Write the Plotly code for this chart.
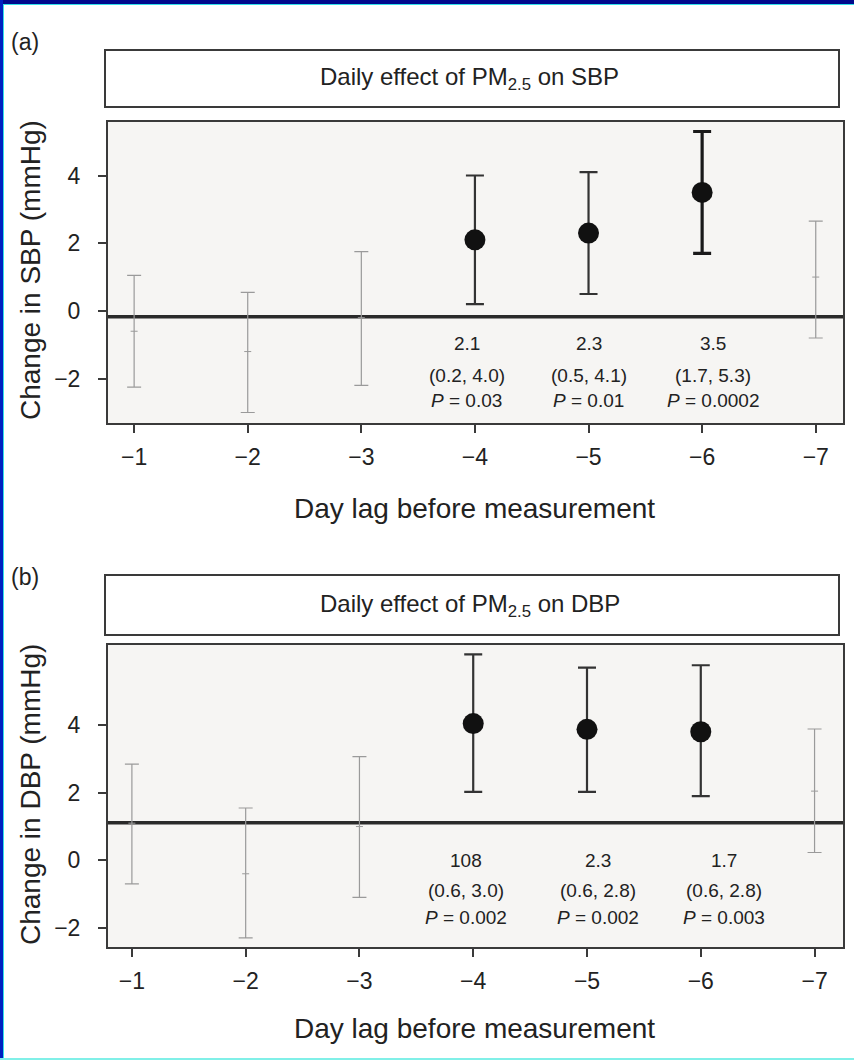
import plotly.graph_objects as go

# Day lags before the blood-pressure measurement
lags = [-1, -2, -3, -4, -5, -6, -7]

# Panel (a): systolic blood pressure change (mmHg), estimate with 95% CI
sbp_est = [-0.6, -1.2, -0.2, 2.1, 2.3, 3.5, 1.0]
sbp_lo = [-2.25, -3.0, -2.2, 0.2, 0.5, 1.7, -0.8]
sbp_hi = [1.05, 0.55, 1.75, 4.0, 4.1, 5.3, 2.65]
sbp_ref = -0.17

# Panel (b): diastolic blood pressure change (mmHg), estimate with 95% CI
dbp_est = [1.1, -0.4, 1.0, 4.05, 3.88, 3.81, 2.05]
dbp_lo = [-0.7, -2.3, -1.1, 2.03, 2.03, 1.9, 0.23]
dbp_hi = [2.85, 1.55, 3.07, 6.1, 5.71, 5.78, 3.89]
dbp_ref = 1.11

# Significance class per lag: 0 = not significant, 1 = significant, 2 = strongest
sbp_sig = [0, 0, 0, 1, 1, 2, 0]
dbp_sig = [0, 0, 0, 1, 1, 1, 0]

# Text blocks under the significant lags
sbp_lbl_x = [-3.93, -5.0, -6.1]
sbp_lbl = [["2.1", "(0.2, 4.0)", "<i>P</i> = 0.03"],
           ["2.3", "(0.5, 4.1)", "<i>P</i> = 0.01"],
           ["3.5", "(1.7, 5.3)", "<i>P</i> = 0.0002"]]
sbp_lbl_y = [-0.95, -1.9, -2.65]

dbp_lbl_x = [-3.94, -5.1, -6.2]
dbp_lbl = [["108", "(0.6, 3.0)", "<i>P</i> = 0.002"],
           ["2.3", "(0.6, 2.8)", "<i>P</i> = 0.002"],
           ["1.7", "(0.6, 2.8)", "<i>P</i> = 0.003"]]
dbp_lbl_y = [0.0, -0.9, -1.7]

y_ticks = [-2, 0, 2, 4]

W, H = 854, 1060
FONT = "Liberation Sans Narrow, Liberation Sans, Arial, sans-serif"
AX = "#3a3a3a"
TXT = "#222222"

fig = go.Figure()


def add_panel(est, lo, hi, sig, xa, ya):
    styles = {
        0: dict(color="#9a9a9a", width=1.2, cap=7, marker=False),
        1: dict(color="#333333", width=2.2, cap=9, marker=True),
        2: dict(color="#1a1a1a", width=3.2, cap=9, marker=True),
    }
    for level, st in styles.items():
        idx = [i for i, s in enumerate(sig) if s == level]
        if not idx:
            continue
        xs = [lags[i] for i in idx]
        ys = [est[i] for i in idx]
        up = [hi[i] - est[i] for i in idx]
        dn = [est[i] - lo[i] for i in idx]
        fig.add_trace(go.Scatter(
            x=xs, y=ys, mode="markers", xaxis=xa, yaxis=ya, showlegend=False,
            marker=(dict(symbol="circle", size=21, color="#111111")
                    if st["marker"] else
                    dict(symbol="line-ew", size=5, line=dict(color=st["color"], width=1))),
            error_y=dict(type="data", symmetric=False, array=up, arrayminus=dn,
                         color=st["color"], thickness=st["width"], width=st["cap"]),
        ))


add_panel(sbp_est, sbp_lo, sbp_hi, sbp_sig, "x", "y")
add_panel(dbp_est, dbp_lo, dbp_hi, dbp_sig, "x2", "y2")


def px_x(p):
    return p / W


def px_y(p):
    return 1 - p / H


axis_common = dict(
    showline=True, linecolor=AX, linewidth=2, mirror=True,
    ticks="outside", ticklen=8, tickcolor=AX, tickwidth=1.5,
    showgrid=False, zeroline=False,
    tickfont=dict(family=FONT, size=23, color=TXT),
)

fig.update_layout(
    width=W, height=H,
    margin=dict(l=0, r=0, t=0, b=0),
    paper_bgcolor="white",
    plot_bgcolor="#f6f5f3",
    xaxis=dict(domain=[px_x(108), px_x(843)], range=[-0.77, -7.24],
               tickvals=lags, anchor="y", ticklabelstandoff=4, **axis_common),
    yaxis=dict(domain=[px_y(423), px_y(122)], range=[-3.31, 5.58],
               tickvals=y_ticks, anchor="x", ticklabelstandoff=13, **axis_common),
    xaxis2=dict(domain=[px_x(108), px_x(843)], range=[-0.79, -7.25],
                tickvals=lags, anchor="y2", ticklabelstandoff=4, **axis_common),
    yaxis2=dict(domain=[px_y(947), px_y(645)], range=[-2.57, 6.38],
                tickvals=y_ticks, anchor="x2", ticklabelstandoff=13, **axis_common),
)

shapes = []
annotations = []

# Reference lines across each panel
for xa, ya, ref in (("x", "y", sbp_ref), ("x2", "y2", dbp_ref)):
    shapes.append(dict(type="line", xref=f"{xa} domain", yref=ya, x0=0, x1=1,
                       y0=ref, y1=ref, line=dict(color="#2a2a2a", width=3.5),
                       layer="below"))

# Panel header boxes with titles
for top, bot, name in ((50, 107, "SBP"), (575, 635, "DBP")):
    shapes.append(dict(type="rect", xref="paper", yref="paper",
                       x0=px_x(105), x1=px_x(839), y0=px_y(bot), y1=px_y(top),
                       line=dict(color=AX, width=2), fillcolor="white"))
    annotations.append(dict(xref="paper", yref="paper", x=px_x(470),
                            y=px_y((top + bot) / 2), xanchor="center", yanchor="middle",
                            text=f"Daily effect of PM<sub>2.5</sub> on {name}",
                            showarrow=False,
                            font=dict(family=FONT, size=24, color=TXT)))

# Panel letters
for y, letter in ((42, "(a)"), (577, "(b)")):
    annotations.append(dict(xref="paper", yref="paper", x=px_x(9), y=px_y(y),
                            xanchor="left", yanchor="middle", text=letter,
                            showarrow=False,
                            font=dict(family=FONT, size=23, color=TXT)))

# Axis titles
for yc, name in ((270, "SBP"), (795, "DBP")):
    annotations.append(dict(xref="paper", yref="paper", x=px_x(30), y=px_y(yc),
                            xanchor="center", yanchor="middle", textangle=-90,
                            text=f"Change in {name} (mmHg)", showarrow=False,
                            font=dict(family=FONT, size=28, color=TXT)))
for yc in (508, 1028):
    annotations.append(dict(xref="paper", yref="paper", x=px_x(475), y=px_y(yc),
                            xanchor="center", yanchor="middle",
                            text="Day lag before measurement", showarrow=False,
                            font=dict(family=FONT, size=28, color=TXT)))

# Estimate / CI / P-value text blocks
for xa, ya, xs, blocks, ys in (("x", "y", sbp_lbl_x, sbp_lbl, sbp_lbl_y),
                               ("x2", "y2", dbp_lbl_x, dbp_lbl, dbp_lbl_y)):
    for x, lines in zip(xs, blocks):
        for yv, line in zip(ys, lines):
            annotations.append(dict(xref=xa, yref=ya, x=x, y=yv, text=line,
                                    xanchor="center", yanchor="middle",
                                    showarrow=False,
                                    font=dict(family=FONT, size=19, color=TXT)))

# Outer frame along the top, left and bottom edges
shapes += [
    dict(type="rect", xref="paper", yref="paper", x0=0, x1=1, y0=px_y(4), y1=1,
         line=dict(width=0), fillcolor="#000a8c"),
    dict(type="line", xref="paper", yref="paper", x0=0, x1=1, y0=px_y(4.5), y1=px_y(4.5),
         line=dict(color="#33e0e8", width=1)),
    dict(type="rect", xref="paper", yref="paper", x0=0, x1=px_x(3), y0=0, y1=1,
         line=dict(width=0), fillcolor="#0020c0"),
    dict(type="line", xref="paper", yref="paper", x0=px_x(3.5), x1=px_x(3.5), y0=0, y1=px_y(4),
         line=dict(color="#33e0e8", width=1)),
    dict(type="line", xref="paper", yref="paper", x0=0, x1=1, y0=px_y(1059), y1=px_y(1059),
         line=dict(color="#80f0e8", width=2)),
]

fig.update_layout(shapes=shapes, annotations=annotations)

fig.write_html("out.html")
